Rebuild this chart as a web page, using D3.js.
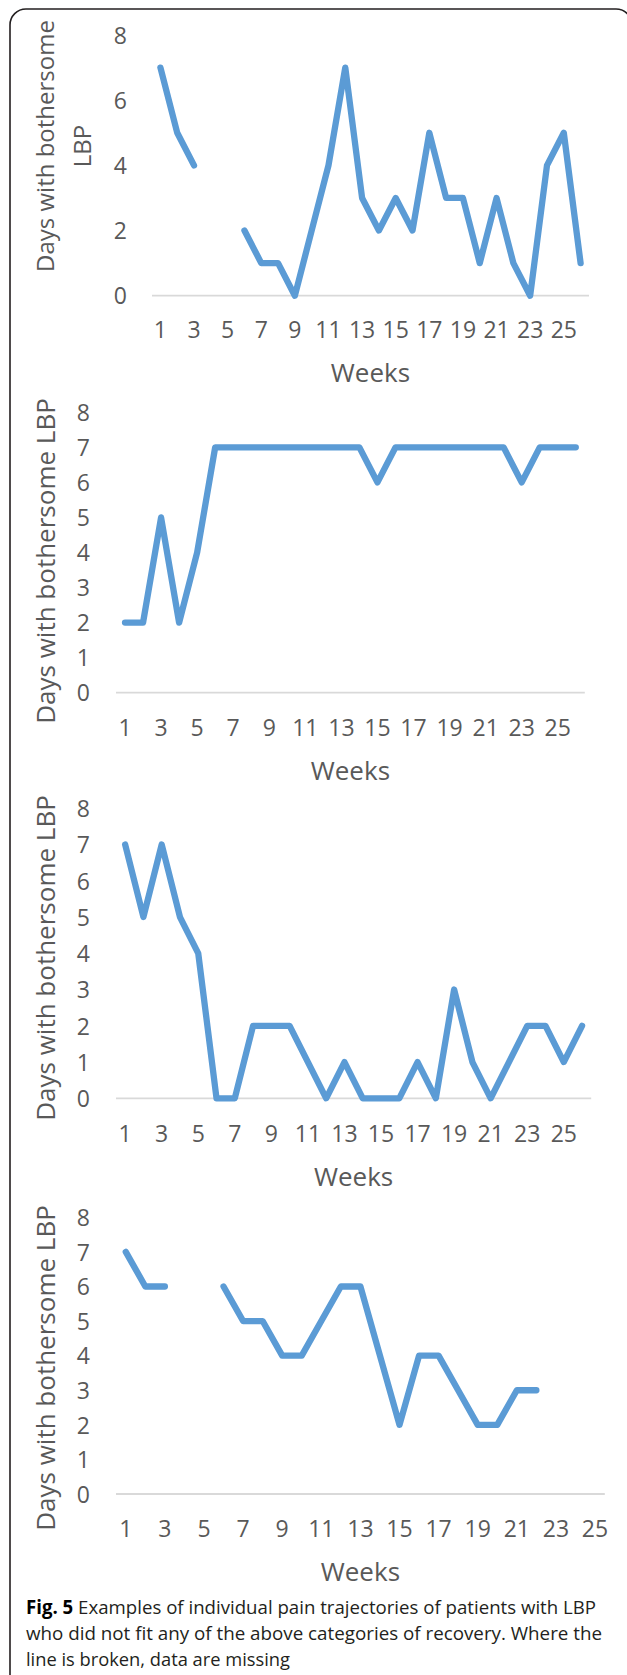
<!DOCTYPE html>
<html>
<head>
<meta charset="utf-8">
<script src="https://cdn.jsdelivr.net/npm/d3@7"></script>
<style>
  html, body { margin: 0; padding: 0; background: #fff; }
  svg { display: block; }
</style>
</head>
<body>
<script>
// ---------------- DATA ----------------
const weeks26 = [1,2,3,4,5,6,7,8,9,10,11,12,13,14,15,16,17,18,19,20,21,22,23,24,25,26];
const weeks25 = [1,2,3,4,5,6,7,8,9,10,11,12,13,14,15,16,17,18,19,20,21,22,23,24,25];
const xTickLabels = ["1","3","5","7","9","11","13","15","17","19","21","23","25"];
const yTicksEven = [0,2,4,6,8];
const yTicksAll = [0,1,2,3,4,5,6,7,8];

const patientA = [7,5,4,null,null,2,1,1,0,2,4,7,3,2,3,2,5,3,3,1,3,1,0,4,5,1];
const patientB = [2,2,5,2,4,7,7,7,7,7,7,7,7,7,6,7,7,7,7,7,7,7,6,7,7,7];
const patientC = [7,5,7,5,4,0,0,2,2,2,1,0,1,0,0,0,1,0,3,1,0,1,2,2,1,2];
const patientD = [7,6,6,null,null,6,5,5,4,4,5,6,6,4,2,4,4,3,2,2,3,3,null,null,null];

const yTitle = "Days with bothersome LBP";
const yTitleLines = ["Days with bothersome", "LBP"];
const xTitle = "Weeks";
const captionBold = "Fig. 5";
const captionLines = [
  " Examples of individual pain trajectories of patients with LBP",
  "who did not fit any of the above categories of recovery. Where the",
  "line is broken, data are missing"
];

// ---------------- LAYOUT ----------------
const W = 627, H = 1675;
const FONT = "'Open Sans', 'Noto Sans', sans-serif";
const LINE_COLOR = "#5b9bd5";
const TEXT_COLOR = "#595959";

const panels = [
  { weeks: weeks26, values: patientA, yTicks: yTicksEven, x0: 152, x1: 589, yZero: 295.7, yTop: 35,
    tickRight: 127, xLabelY: 330, xTitleY: 373, titleLines: yTitleLines, titleX: [45, 82], titleCY: 146, titleSize: 24 },
  { weeks: weeks26, values: patientB, yTicks: yTicksAll, x0: 116, x1: 584.8, yZero: 692.7, yTop: 412.3,
    tickRight: 90, xLabelY: 727.7, xTitleY: 770.7, titleLines: [yTitle], titleX: [46], titleCY: 561, titleSize: 26 },
  { weeks: weeks26, values: patientC, yTicks: yTicksAll, x0: 116, x1: 591.2, yZero: 1098.3, yTop: 808.3,
    tickRight: 90, xLabelY: 1133.3, xTitleY: 1176.7, titleLines: [yTitle], titleX: [46], titleCY: 958, titleSize: 26 },
  { weeks: weeks25, values: patientD, yTicks: yTicksAll, x0: 116, x1: 604.8, yZero: 1494, yTop: 1217.3,
    tickRight: 90, xLabelY: 1529, xTitleY: 1571.7, titleLines: [yTitle], titleX: [46], titleCY: 1368, titleSize: 26 }
];

const svg = d3.select("body").append("svg")
  .attr("width", W).attr("height", H)
  .style("font-family", FONT);

// frame
svg.append("rect")
  .attr("x", 10).attr("y", 9)
  .attr("width", 622).attr("height", 1720)
  .attr("rx", 16).attr("ry", 16)
  .attr("fill", "none")
  .attr("stroke", "#231f20")
  .attr("stroke-width", 1.6);

panels.forEach(p => {
  const g = svg.append("g");
  const x = d3.scaleBand().domain(p.weeks).range([p.x0, p.x1]).paddingInner(0).paddingOuter(0);
  const y = d3.scaleLinear().domain([0, 8]).range([p.yZero, p.yTop]);

  // baseline / gridline at zero
  g.append("line")
    .attr("x1", p.x0).attr("x2", p.x1)
    .attr("y1", y(0)).attr("y2", y(0))
    .attr("stroke", "#d9d9d9").attr("stroke-width", 1.8);

  // y axis labels
  const yAxis = d3.axisLeft(y).tickValues(p.yTicks).tickSize(0).tickPadding(0).tickFormat(d3.format("d"));
  const ya = g.append("g").attr("transform", `translate(${p.tickRight},0)`).call(yAxis);
  ya.select(".domain").remove();
  ya.selectAll("text")
    .attr("fill", TEXT_COLOR)
    .style("font-size", "23px")
    .style("font-family", FONT)
    .attr("dy", "0.36em");

  // x axis labels (odd weeks)
  const xAxis = d3.axisBottom(x)
    .tickValues(xTickLabels.map(Number))
    .tickSize(0).tickPadding(0).tickFormat(d => String(d));
  const xa = g.append("g").attr("transform", `translate(0,${p.xLabelY})`).call(xAxis);
  xa.select(".domain").remove();
  xa.selectAll("text")
    .attr("fill", TEXT_COLOR)
    .style("font-size", "23px")
    .style("font-family", FONT)
    .attr("y", 0)
    .attr("dy", "0.36em");

  // x title
  g.append("text")
    .attr("x", (p.x0 + p.x1) / 2).attr("y", p.xTitleY)
    .attr("dy", "0.36em")
    .attr("text-anchor", "middle")
    .attr("fill", TEXT_COLOR)
    .style("font-size", "26px")
    .text(xTitle);

  // y title
  p.titleLines.forEach((t, i) => {
    g.append("text")
      .attr("transform", `translate(${p.titleX[i]},${p.titleCY}) rotate(-90)`)
      .attr("text-anchor", "middle")
      .attr("dy", "0.36em")
      .attr("fill", TEXT_COLOR)
      .style("font-size", p.titleSize + "px")
      .text(t);
  });

  // line
  const line = d3.line()
    .defined(d => d.v !== null)
    .x(d => x(d.w) + x.bandwidth() / 2)
    .y(d => y(d.v));
  const pts = p.weeks.map((w, i) => ({ w: w, v: p.values[i] }));
  g.append("path")
    .datum(pts)
    .attr("d", line)
    .attr("fill", "none")
    .attr("stroke", LINE_COLOR)
    .attr("stroke-width", 6.3)
    .attr("stroke-linejoin", "round")
    .attr("stroke-linecap", "round");
});

// caption
const cap = svg.append("g").style("font-size", "19px").attr("fill", "#231f20");
const capX = 26;
const capY = [1614, 1640, 1666];
const capEnds = [596, 602, 290];
const l1 = cap.append("text").attr("x", capX).attr("y", capY[0])
  .attr("textLength", capEnds[0] - capX).attr("lengthAdjust", "spacingAndGlyphs");
l1.append("tspan").style("font-weight", "bold").attr("fill", "#000").text(captionBold);
l1.append("tspan").text(captionLines[0]);
for (let i = 1; i < 3; i++) {
  cap.append("text")
    .attr("x", capX).attr("y", capY[i])
    .attr("textLength", capEnds[i] - capX)
    .attr("lengthAdjust", "spacingAndGlyphs")
    .text(captionLines[i]);
}
</script>
</body>
</html>
